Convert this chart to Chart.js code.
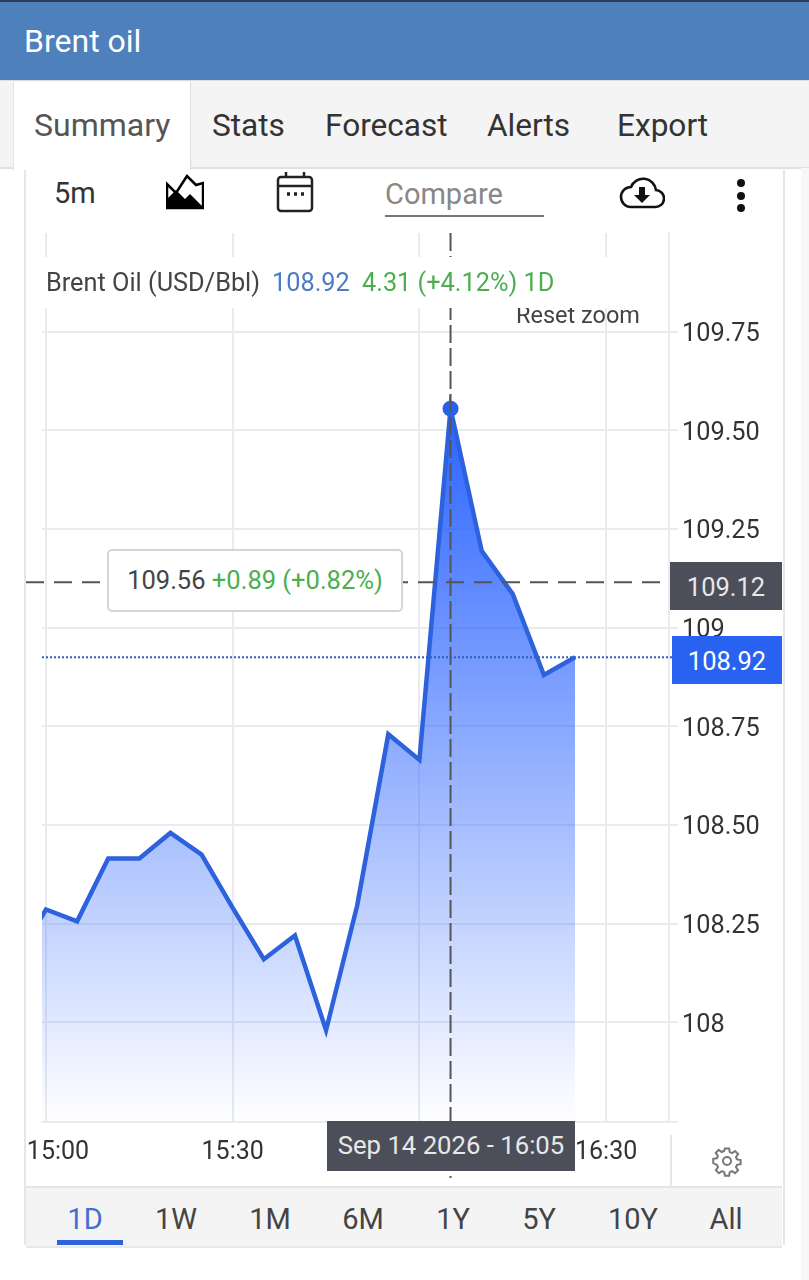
<!DOCTYPE html>
<html>
<head>
<meta charset="utf-8">
<title>Brent oil</title>
<script src="https://cdn.jsdelivr.net/npm/chart.js@4"></script>
<style>
html, body { margin: 0; padding: 0; background: #fff; }
body { width: 809px; height: 1280px; position: relative; overflow: hidden; font-family: Roboto, sans-serif; color: #333; }
.abs { position: absolute; white-space: nowrap; }
.mid { transform: translateY(-50%); }
.ctr { transform: translate(-50%, -50%); }
#topStripe { left: 0; top: 0; width: 809px; height: 2px; background: #2c3e5f; }
#header { left: 0; top: 2px; width: 809px; height: 78px; background: #4e80bc; box-shadow: 0 1px 2px rgba(0,0,0,.2); }
#title { left: 24px; top: 41px; font-size: 32px; color: #fff; }
#tabBar { left: 0; top: 81px; width: 809px; height: 86px; background: #f4f4f4; border-bottom: 2px solid #e0e0e0; }
#tabActive { left: 13px; top: 82px; width: 176px; height: 88px; background: #fff; border-left: 1px solid #e4e4e4; border-right: 1px solid #ddd; }
.tab { top: 125px; font-size: 31.6px; color: #333; }
#card { left: 24px; top: 170px; width: 757px; height: 1075px; border-left: 2px solid #e6e6e6; border-right: 2px solid #e6e6e6; box-sizing: content-box; }
#shade { left: 801px; top: 168px; width: 8px; height: 1112px; background: #f7f7f7; }
#chart { position: absolute; left: 0; top: 226px; }
#legendMask { left: 41px; top: 257px; width: 620px; height: 51px; background: #fff; }
.legendText { top: 282px; font-size: 25.3px; }
#resetZoom { left: 516px; top: 315px; font-size: 23.5px; color: #444; }
#tipBox { left: 107px; top: 549px; width: 296px; height: 63px; box-sizing: border-box; background: #fff; border: 2px solid #d4d4d4; border-radius: 5px; font-size: 25.5px; line-height: 59px; text-align: center; color: #444; }
#tipBox span { color: #4cae4f; }
.priceTag { color: #fff; font-size: 25.5px; text-align: center; }
#crossTag { left: 670px; top: 562px; width: 112px; height: 48px; line-height: 51px; background: #4c4f59; color: #e8e8e8; }
#lastTag { left: 672px; top: 636px; width: 110px; height: 48px; line-height: 51px; background: #2962f0; }
#dateTag { left: 327px; top: 1121px; width: 248px; height: 50px; line-height: 49px; background: #4c4f59; color: #e8e8e8; font-size: 25.7px; text-align: center; }
#gearSep { left: 670px; top: 1135px; width: 2px; height: 51px; background: #e6e6e6; }
#rangeBar { left: 26px; top: 1186px; width: 756px; height: 58px; background: #f4f4f4; border-top: 2px solid #e4e4e4; border-bottom: 2px solid #e8e8e8; }
.range { top: 1219px; font-size: 29px; color: #444; }
#rangeLine { left: 57px; top: 1240px; width: 66px; height: 5px; background: #2d62dc; }
</style>
</head>
<body>
<div class="abs" id="topStripe"></div>
<div class="abs" id="header"></div>
<div class="abs mid" id="title">Brent oil</div>
<div class="abs" id="tabBar"></div>
<div class="abs" id="tabActive"></div>
<div class="abs mid tab" style="left:34px;color:#555;font-size:32px">Summary</div>
<div class="abs mid tab" style="left:212px">Stats</div>
<div class="abs mid tab" style="left:325px">Forecast</div>
<div class="abs mid tab" style="left:487px">Alerts</div>
<div class="abs mid tab" style="left:617px">Export</div>
<div class="abs" id="shade"></div>
<div class="abs" id="card"></div>

<div class="abs mid" style="left:54px;top:193px;font-size:29px">5m</div>
<svg class="abs" style="left:166px;top:174px" width="38" height="36" viewBox="0 0 38 36">
  <path d="M1 34V10l9 9L21 2l9 9 7-2v25z" fill="#fff" stroke="#000" stroke-width="2.5"/>
  <path d="M1 35V25l9-9 9 9 5-5 13 13v2z" fill="#000"/>
</svg>
<svg class="abs" style="left:276px;top:171px" width="38" height="42" viewBox="0 0 38 42" fill="none" stroke="#222" stroke-width="2.5">
  <rect x="2" y="6" width="34" height="34" rx="3"/>
  <path d="M2 15H36M10 1V6M28 1V6"/>
  <path d="M11 23h3M18 23h3M25 23h3" stroke-width="3.5"/>
</svg>
<div class="abs mid" style="left:385px;top:194px;font-size:29px;color:#888">Compare</div>
<div class="abs" style="left:385px;top:215px;width:159px;height:2px;background:#777"></div>
<svg class="abs" style="left:619px;top:177px" width="46" height="32" viewBox="0 0 46 32">
  <path d="M12 30h24a8.5 8.5 0 0 0 1-17 13 13 0 0 0-25-3A10 10 0 0 0 12 30z" fill="#fff" stroke="#111" stroke-width="2.6"/>
  <path d="M20 10h6v8h5l-8 8-8-8h5z" fill="#111"/>
</svg>
<svg class="abs" style="left:735px;top:178px" width="12" height="36">
  <circle cx="6" cy="5" r="4" fill="#111"/><circle cx="6" cy="18" r="4" fill="#111"/><circle cx="6" cy="30" r="4" fill="#111"/>
</svg>

<canvas id="chart" width="809" height="954"></canvas>

<div class="abs mid" id="resetZoom">Reset zoom</div>
<div class="abs" id="legendMask"></div>
<div class="abs mid legendText" style="left:46px;color:#444">Brent Oil (USD/Bbl)</div>
<div class="abs mid legendText" style="left:272px;color:#4a7dc4">108.92</div>
<div class="abs mid legendText" style="left:362px;color:#4cae4f">4.31 (+4.12%) 1D</div>

<div class="abs" id="tipBox">109.56 <span>+0.89 (+0.82%)</span></div>
<div class="abs priceTag" id="crossTag">109.12</div>
<div class="abs priceTag" id="lastTag">108.92</div>
<div class="abs" id="dateTag">Sep 14 2026 - 16:05</div>

<div class="abs" id="gearSep"></div>
<svg class="abs" style="left:712px;top:1145px" width="30" height="32" viewBox="0 0 24 24" fill="none" stroke="#777" stroke-width="1.6">
  <circle cx="12" cy="12" r="3.2"/>
  <path d="M10.3 2h3.4l.5 2.9 1.9.8 2.4-1.7 2.4 2.4-1.7 2.4.8 1.9 2.9.5v3.4l-2.9.5-.8 1.9 1.7 2.4-2.4 2.4-2.4-1.7-1.9.8-.5 2.9h-3.4l-.5-2.9-1.9-.8-2.4 1.7-2.4-2.4 1.7-2.4-.8-1.9L1 13.7v-3.4l2.9-.5.8-1.9L3 5.5 5.4 3.1l2.4 1.7 1.9-.8z"/>
</svg>

<div class="abs" id="rangeBar"></div>
<div class="abs ctr range" style="left:85px;color:#3f6fd0">1D</div>
<div class="abs ctr range" style="left:176px">1W</div>
<div class="abs ctr range" style="left:270px">1M</div>
<div class="abs ctr range" style="left:363px">6M</div>
<div class="abs ctr range" style="left:453px">1Y</div>
<div class="abs ctr range" style="left:539px">5Y</div>
<div class="abs ctr range" style="left:633px">10Y</div>
<div class="abs ctr range" style="left:726px">All</div>
<div class="abs" id="rangeLine"></div>

<script>
// Brent oil, 5 minute closes
const times = ['14:55', '15:00', '15:05', '15:10', '15:15', '15:20', '15:25', '15:30', '15:35', '15:40',
    '15:45', '15:50', '15:55', '16:00', '16:05', '16:10', '16:15', '16:20', '16:25'];
const prices = [108.15, 108.286, 108.256, 108.415, 108.415, 108.48, 108.425, 108.29, 108.16, 108.22,
    107.98, 108.296, 108.73, 108.665, 109.555, 109.195, 109.085, 108.88, 108.925];

const xTickLabels = ['15:00', '15:30', '16:00', '16:30'];
const yTickValues = [108, 108.25, 108.5, 108.75, 109, 109.25, 109.5, 109.75];
const yTickLabels = ['108', '108.25', '108.50', '108.75', '109', '109.25', '109.50', '109.75'];

const crossTime = '16:05';
const crossPrice = 109.115;
const lastPrice = 108.925;

const gridColor = '#e9ebee';
const lineColor = '#2d62dc';

function toMinutes(t) {
    const parts = t.split(':');
    return parseInt(parts[0]) * 60 + parseInt(parts[1]);
}

const yMin = 107.7475;
const yMax = 110;

// Crosshair, last price line and the shifted first time label
const overlayPlugin = {
    id: 'overlay',
    afterDatasetsDraw(chart) {
        const ctx = chart.ctx;
        const x = chart.scales.x;
        const y = chart.scales.y;
        const area = chart.chartArea;

        ctx.save();
        ctx.strokeStyle = '#555';
        ctx.lineWidth = 2;
        ctx.setLineDash([18, 5]);
        ctx.beginPath();
        ctx.moveTo(x.getPixelForValue(toMinutes(crossTime)), area.top);
        ctx.lineTo(x.getPixelForValue(toMinutes(crossTime)), chart.height - 2);
        ctx.stroke();

        ctx.setLineDash([18, 10]);
        ctx.beginPath();
        ctx.moveTo(26, y.getPixelForValue(crossPrice));
        ctx.lineTo(area.right, y.getPixelForValue(crossPrice));
        ctx.stroke();

        ctx.strokeStyle = '#2d5fc0';
        ctx.setLineDash([2, 2]);
        ctx.beginPath();
        ctx.moveTo(area.left, y.getPixelForValue(lastPrice));
        ctx.lineTo(area.right + 3, y.getPixelForValue(lastPrice));
        ctx.stroke();

        ctx.setLineDash([]);
        ctx.fillStyle = '#333';
        ctx.font = '25px Roboto';
        ctx.textAlign = 'center';
        ctx.textBaseline = 'middle';
        ctx.fillText(xTickLabels[0], x.getPixelForValue(toMinutes(xTickLabels[0])) + 12, area.bottom + 31);
        ctx.restore();
    }
};

new Chart(document.getElementById('chart'), {
    type: 'line',
    data: {
        datasets: [{
            data: times.map((t, i) => ({ x: toMinutes(t), y: prices[i] })),
            borderColor: lineColor,
            borderWidth: 4.5,
            borderJoinStyle: 'miter',
            tension: 0,
            clip: 0,
            fill: 'start',
            backgroundColor(c) {
                const area = c.chart.chartArea;
                if (!area) return 'rgba(41, 98, 255, 0.5)';
                const g = c.chart.ctx.createLinearGradient(0, c.chart.scales.y.getPixelForValue(109.56), 0, area.bottom);
                g.addColorStop(0, 'rgba(41, 98, 255, 1)');
                g.addColorStop(1, 'rgba(41, 98, 255, 0)');
                return g;
            },
            pointRadius: c => times[c.dataIndex] === crossTime ? 8 : 0,
            pointBackgroundColor: '#2962e8',
            pointBorderWidth: 0
        }]
    },
    plugins: [overlayPlugin],
    options: {
        responsive: false,
        animation: false,
        events: [],
        layout: { padding: { left: 42, top: 7, right: 0, bottom: 0 } },
        plugins: { legend: { display: false }, tooltip: { enabled: false } },
        scales: {
            x: {
                type: 'linear',
                min: 899.36,
                max: 1000.1,
                afterBuildTicks(scale) {
                    scale.ticks = xTickLabels.map(l => ({ value: toMinutes(l), label: l }));
                },
                afterFit(scale) { scale.height = 58; },
                border: { display: false },
                grid: { color: gridColor, lineWidth: 2, tickLength: 0, drawOnChartArea: true },
                ticks: {
                    autoSkip: false,
                    maxRotation: 0,
                    padding: 16,
                    color: '#333',
                    font: { family: 'Roboto', size: 25 },
                    // 15:00 sits right of its grid line, the overlay plugin draws it
                    callback: v => {
                        const i = xTickLabels.findIndex(l => toMinutes(l) === v);
                        return i > 0 ? xTickLabels[i] : '';
                    }
                }
            },
            y: {
                position: 'right',
                min: yMin,
                max: yMax,
                afterBuildTicks(scale) {
                    scale.ticks = [yMin].concat(yTickValues).map(v => ({ value: v }));
                },
                afterFit(scale) {
                    scale.width = 140;
                    scale.paddingTop = 0;
                    scale.paddingBottom = 0;
                },
                border: { display: true, color: gridColor, width: 2 },
                grid: { color: gridColor, lineWidth: 2, tickLength: 9 },
                ticks: {
                    autoSkip: false,
                    padding: 4,
                    labelOffset: 3,
                    color: '#333',
                    crossAlign: 'near',
                    font: { family: 'Roboto', size: 25.3 },
                    callback: v => {
                        const i = yTickValues.indexOf(v);
                        return i >= 0 ? yTickLabels[i] : '';
                    }
                }
            }
        }
    }
});
</script>
</body>
</html>
